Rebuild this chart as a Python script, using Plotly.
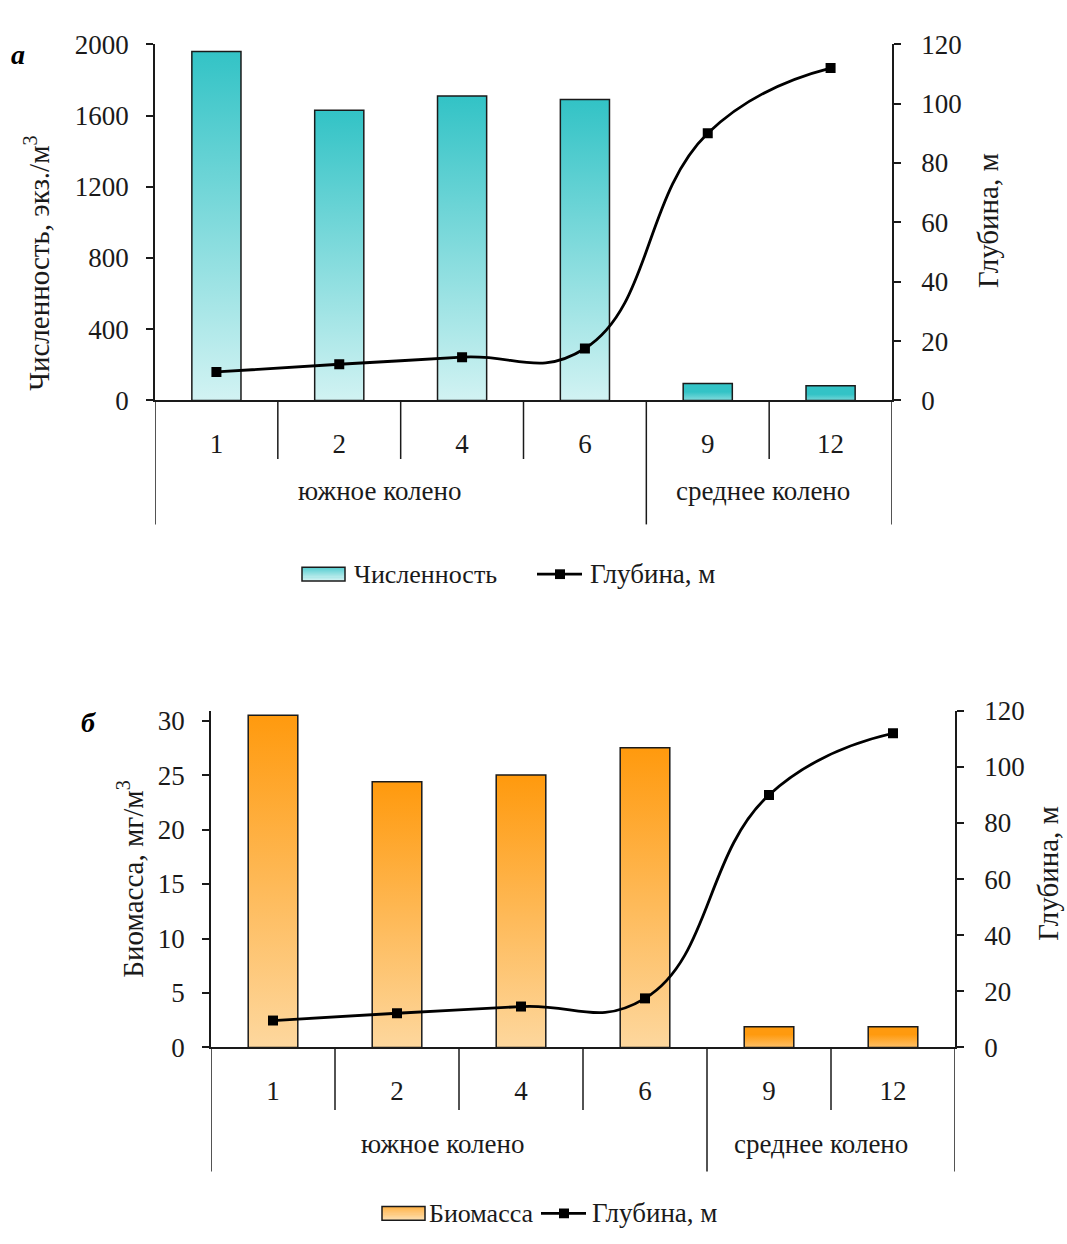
import plotly.graph_objects as go

# ---- data -------------------------------------------------------------
stations = ["1", "2", "4", "6", "9", "12"]
groups = ["южное колено", "среднее колено"]
group_sizes = [4, 2]
abundance = [1960, 1630, 1710, 1690, 95, 82]      # экз./м3
biomass = [30.5, 24.4, 25.0, 27.5, 1.9, 1.9]      # мг/м3
depth = [9.6, 12.2, 14.6, 17.5, 90, 112]          # м

# ---- page geometry (pixels) ------------------------------------------
W, H = 1067, 1244
FONT = "Liberation Serif"
INK = "#1a1a1a"


def fx(p):
    return p / W


def fy(p):
    return 1 - p / H


def mix(c0, c1, t):
    a = [int(c0[i:i + 2], 16) for i in (1, 3, 5)]
    b = [int(c1[i:i + 2], 16) for i in (1, 3, 5)]
    return "rgb(%d,%d,%d)" % tuple(round(a[k] + (b[k] - a[k]) * t) for k in range(3))


panels = [
    dict(letter="а", values=abundance, name="Численность",
         ytitle="Численность, экз./м<sup>3</sup>", yrange=[0, 2000],
         ytickvals=list(range(0, 2001, 400)),
         light="#D6F4F4", dark="#33C3C6",
         left=155, right=892, top=30, bottom=395,
         short_end=455, long_end=522, grp_y=488,
         grp_x=[379, 763], legend_y=573,
         legend_x=[302, 352, 537, 588],
         letter_xy=(18, 40), ltitle=(37, 254), rtitle=(988, 211)),
    dict(letter="б", values=biomass, name="Биомасса",
         ytitle="Биомасса, мг/м<sup>3</sup>", yrange=[0, 30.9],
         ytickvals=list(range(0, 31, 5)),
         light="#FDD9A2", dark="#FF9A0E",
         left=211, right=955, top=713, bottom=1058,
         short_end=1122, long_end=1185, grp_y=1157,
         grp_x=[442, 821], legend_y=1228,
         legend_x=[382, 427, 541, 590],
         letter_xy=(88, 725), ltitle=(130, 886), rtitle=(1048, 880)),
]

fig = go.Figure()
shapes = []
annotations = []
layout_axes = {}
bar_half = 0.2

for k, p in enumerate(panels):
    xa = "x" if k == 0 else "x%d" % (k + 1)
    ya = "y" if k == 0 else "y%d" % (2 * k + 1)
    ya2 = "y%d" % (2 * k + 2)

    # bars as gradient-filled rectangles built from the values
    for i, v in enumerate(p["values"]):
        fig.add_trace(go.Scatter(
            x=[i - bar_half, i - bar_half, i + bar_half, i + bar_half, i - bar_half],
            y=[0, v, v, 0, 0],
            mode="lines", fill="toself",
            fillgradient=dict(type="vertical", start=0, stop=v,
                              colorscale=[[0, p["light"]], [1, p["dark"]]]),
            line=dict(color=INK, width=1.5),
            xaxis=xa, yaxis=ya, showlegend=False, hoverinfo="skip"))

    # station depth line
    fig.add_trace(go.Scatter(
        x=list(range(len(stations))), y=depth,
        mode="lines+markers",
        line=dict(color="black", width=2.8, shape="spline", smoothing=1.3),
        marker=dict(symbol="square", size=10, color="black"),
        xaxis=xa, yaxis=ya2, showlegend=False, name="Глубина, м"))

    tick_style = dict(ticks="outside", ticklen=7, tickwidth=1.5, tickcolor=INK,
                      showline=True, linecolor=INK, linewidth=1.5,
                      showgrid=False, zeroline=False,
                      tickfont=dict(family=FONT, size=27, color=INK))

    xkey = "xaxis" if k == 0 else "xaxis%d" % (k + 1)
    ykey = "yaxis" if k == 0 else "yaxis%d" % (2 * k + 1)
    y2key = "yaxis%d" % (2 * k + 2)
    layout_axes[xkey] = dict(
        domain=[fx(p["left"]), fx(p["right"])], anchor=ya,
        range=[-0.5, len(stations) - 0.5],
        tickvals=list(range(len(stations))), ticktext=stations,
        ticks="", showline=True, linecolor=INK, linewidth=1.5,
        showgrid=False, zeroline=False, ticklabelstandoff=18,
        tickfont=dict(family=FONT, size=27, color=INK))
    layout_axes[ykey] = dict(
        domain=[fy(p["bottom"]), fy(p["top"])], anchor=xa,
        range=p["yrange"], tickvals=p["ytickvals"],
        ticklabelstandoff=12, **tick_style)
    layout_axes[y2key] = dict(
        overlaying=ya, side="right", anchor=xa,
        range=[0, 120], tickvals=list(range(0, 121, 20)),
        ticklabelstandoff=15, **tick_style)

    # category dividers under the axis
    bounds = [b - 0.5 for b in range(len(stations) + 1)]
    group_edges = {-0.5}
    acc = -0.5
    for g in group_sizes:
        acc += g
        group_edges.add(acc)
    for b in bounds:
        end = p["long_end"] if b in group_edges else p["short_end"]
        shapes.append(dict(type="line", xref=xa, yref="paper",
                           x0=b, x1=b, y0=fy(p["bottom"]), y1=fy(end),
                           line=dict(color=INK, width=1.5)))

    for g, gx in zip(groups, p["grp_x"]):
        annotations.append(dict(text=g, xref="paper", yref="paper",
                                x=fx(gx), y=fy(p["grp_y"]), showarrow=False,
                                xanchor="center", yanchor="middle",
                                font=dict(family=FONT, size=27, color=INK)))

    # axis titles
    tx, ty = p["ltitle"]
    annotations.append(dict(text=p["ytitle"], xref="paper", yref="paper",
                            x=fx(tx), y=fy(ty), textangle=-90, showarrow=False,
                            xanchor="center", yanchor="middle",
                            font=dict(family=FONT, size=29, color=INK)))
    tx, ty = p["rtitle"]
    annotations.append(dict(text="Глубина, м", xref="paper", yref="paper",
                            x=fx(tx), y=fy(ty), textangle=-90, showarrow=False,
                            xanchor="center", yanchor="middle",
                            font=dict(family=FONT, size=29, color=INK)))

    # panel letter
    lx, ly = p["letter_xy"]
    annotations.append(dict(text="<b><i>%s</i></b>" % p["letter"], xref="paper", yref="paper",
                            x=fx(lx), y=fy(ly), showarrow=False,
                            xanchor="center", yanchor="middle",
                            font=dict(family=FONT, size=28, color="black")))

    # legend: gradient swatch, label, line-with-marker sample, label
    bx0, tx0, lx0, tx1 = p["legend_x"]
    bx1 = bx0 + 43
    cy = p["legend_y"]
    ly0, ly1 = cy - 7, cy + 7
    n_strips = 14
    for s in range(n_strips):
        t = s / (n_strips - 1)
        y_a = ly1 - (ly1 - ly0) * s / n_strips
        y_b = ly1 - (ly1 - ly0) * (s + 1) / n_strips
        shapes.append(dict(type="rect", xref="paper", yref="paper",
                           x0=fx(bx0), x1=fx(bx1), y0=fy(y_a), y1=fy(y_b),
                           fillcolor=mix(p["light"], p["dark"], t),
                           line=dict(width=0)))
    shapes.append(dict(type="rect", xref="paper", yref="paper",
                       x0=fx(bx0), x1=fx(bx1), y0=fy(ly1), y1=fy(ly0),
                       line=dict(color=INK, width=1.5)))
    annotations.append(dict(text=p["name"], xref="paper", yref="paper",
                            x=fx(tx0), y=fy(cy), showarrow=False,
                            xanchor="left", yanchor="middle",
                            font=dict(family=FONT, size=26, color=INK)))
    shapes.append(dict(type="line", xref="paper", yref="paper",
                       x0=fx(lx0), x1=fx(lx0 + 45), y0=fy(cy), y1=fy(cy),
                       line=dict(color="black", width=2.8)))
    shapes.append(dict(type="rect", xref="paper", yref="paper",
                       x0=fx(lx0 + 18), x1=fx(lx0 + 28),
                       y0=fy(cy + 5), y1=fy(cy - 5),
                       fillcolor="black", line=dict(width=0)))
    annotations.append(dict(text="Глубина, м", xref="paper", yref="paper",
                            x=fx(tx1), y=fy(cy), showarrow=False,
                            xanchor="left", yanchor="middle",
                            font=dict(family=FONT, size=27, color=INK)))

fig.update_layout(
    width=W, height=H, autosize=False,
    margin=dict(l=0, r=0, t=0, b=0),
    paper_bgcolor="white", plot_bgcolor="rgba(0,0,0,0)",
    showlegend=False,
    shapes=shapes, annotations=annotations,
    font=dict(family=FONT, color=INK),
    **layout_axes)

fig.write_html("out.html")
